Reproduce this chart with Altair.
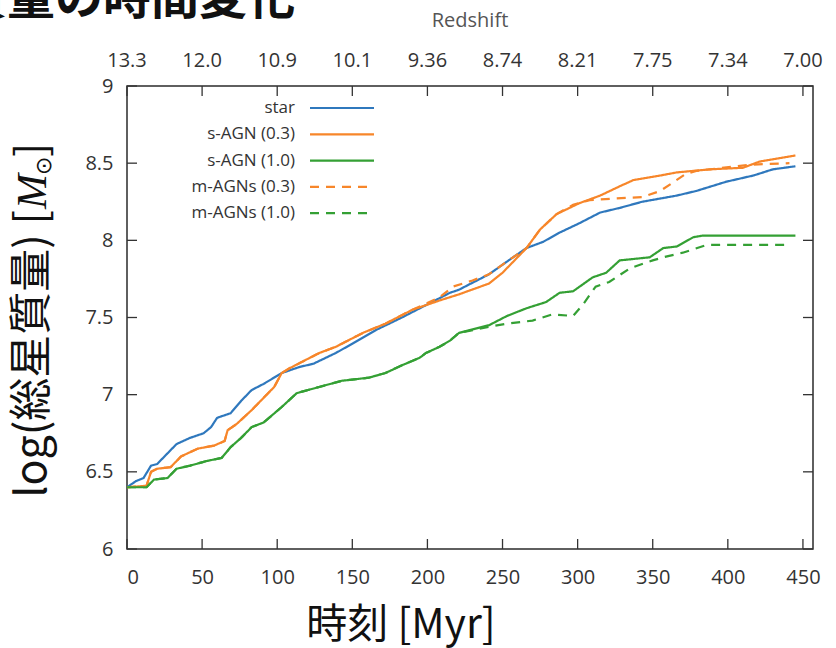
import altair as alt
import pandas as pd

# ---- series: time [Myr] and log stellar mass [Msun] ----
star_t = [0, 6, 11, 16, 20, 27, 33, 42, 51, 56, 60, 69, 76, 83, 91, 103, 115, 124, 139, 150,
          166, 183, 199, 215, 221, 241, 257, 266, 277, 288, 301, 315, 328, 343, 366, 379, 399,
          417, 430, 445]
star_v = [6.40, 6.44, 6.46, 6.54, 6.55, 6.62, 6.68, 6.72, 6.75, 6.79, 6.85, 6.88, 6.96, 7.03,
          7.07, 7.14, 7.18, 7.20, 7.27, 7.33, 7.42, 7.50, 7.58, 7.66, 7.68, 7.78, 7.89, 7.95,
          7.99, 8.05, 8.11, 8.18, 8.21, 8.25, 8.29, 8.32, 8.38, 8.42, 8.46, 8.48]

sagn03_t = [0, 13, 16, 20, 29, 36, 47, 58, 65, 67, 73, 83, 91, 98, 103, 108, 128, 139, 157,
            172, 190, 208, 221, 241, 250, 259, 266, 275, 286, 301, 315, 328, 337, 355, 366,
            388, 410, 421, 445]
sagn03_v = [6.40, 6.41, 6.50, 6.52, 6.53, 6.60, 6.65, 6.67, 6.70, 6.77, 6.81, 6.90, 6.98, 7.05,
            7.14, 7.17, 7.27, 7.31, 7.40, 7.46, 7.55, 7.61, 7.65, 7.72, 7.79, 7.88, 7.95, 8.07,
            8.17, 8.24, 8.29, 8.35, 8.39, 8.42, 8.44, 8.46, 8.47, 8.51, 8.55]

sagn10_t = [0, 13, 18, 27, 33, 42, 53, 63, 69, 76, 83, 91, 103, 113, 128, 143, 161, 172, 183,
            195, 199, 208, 215, 221, 241, 253, 266, 279, 288, 297, 310, 319, 328, 348, 357, 366,
            377, 383, 445]
sagn10_v = [6.40, 6.40, 6.45, 6.46, 6.52, 6.54, 6.57, 6.59, 6.66, 6.72, 6.79, 6.82, 6.92, 7.01,
            7.05, 7.09, 7.11, 7.14, 7.19, 7.24, 7.27, 7.31, 7.35, 7.40, 7.45, 7.51, 7.56, 7.60,
            7.66, 7.67, 7.76, 7.79, 7.87, 7.89, 7.95, 7.96, 8.02, 8.03, 8.03]

magn03_t = [0, 13, 16, 20, 29, 36, 47, 58, 65, 67, 73, 83, 91, 98, 103, 108, 128, 139, 157,
            172, 190, 208, 217, 230, 241, 257, 266, 275, 286, 297, 308, 323, 343, 355, 372, 379,
            388, 415, 441]
magn03_v = [6.40, 6.41, 6.50, 6.52, 6.53, 6.60, 6.65, 6.67, 6.70, 6.77, 6.81, 6.90, 6.98, 7.05,
            7.14, 7.17, 7.27, 7.31, 7.40, 7.46, 7.55, 7.63, 7.70, 7.74, 7.78, 7.89, 7.95, 8.07,
            8.17, 8.23, 8.26, 8.27, 8.28, 8.32, 8.43, 8.45, 8.46, 8.49, 8.50]

magn10_t = [0, 13, 18, 27, 33, 42, 53, 63, 69, 76, 83, 91, 103, 113, 128, 143, 161, 172, 183,
            195, 199, 208, 215, 221, 241, 253, 270, 283, 297, 304, 312, 321, 335, 350, 357, 370,
            386, 440]
magn10_v = [6.40, 6.40, 6.45, 6.46, 6.52, 6.54, 6.57, 6.59, 6.66, 6.72, 6.79, 6.82, 6.92, 7.01,
            7.05, 7.09, 7.11, 7.14, 7.19, 7.24, 7.27, 7.31, 7.35, 7.40, 7.44, 7.46, 7.48, 7.52,
            7.51, 7.59, 7.70, 7.73, 7.82, 7.87, 7.89, 7.92, 7.97, 7.97]

series_names = ["star", "s-AGN (0.3)", "s-AGN (1.0)", "m-AGNs (0.3)", "m-AGNs (1.0)"]
series_colors = ["#2f78bd", "#f7862a", "#34a034", "#f7862a", "#34a034"]
series_dashes = [[1, 0], [1, 0], [1, 0], [9, 7], [9, 7]]

# ---- axis ticks ----
time_ticks = [0, 50, 100, 150, 200, 250, 300, 350, 400, 450]
mass_ticks = [6, 6.5, 7, 7.5, 8, 8.5, 9]
redshift_labels = ["13.3", "12.0", "10.9", "10.1", "9.36", "8.74", "8.21", "7.75", "7.34", "7.00"]

W, H = 686, 463
TICK = 10
LABEL_FONT = "Open Sans"
CJK_FONT = "Noto Sans CJK JP"
INK = "#333333"
TITLE_INK = "#111111"

rows = []
for name, ts, vs in [
    ("star", star_t, star_v),
    ("s-AGN (0.3)", sagn03_t, sagn03_v),
    ("s-AGN (1.0)", sagn10_t, sagn10_v),
    ("m-AGNs (0.3)", magn03_t, magn03_v),
    ("m-AGNs (1.0)", magn10_t, magn10_v),
]:
    for t, v in zip(ts, vs):
        rows.append({"series": name, "t": t, "v": v})
df = pd.DataFrame(rows)

xscale = alt.Scale(domain=[0, 456.7], nice=False, zero=False)
yscale = alt.Scale(domain=[6, 9], nice=False, zero=False)

x_axis = alt.Axis(values=time_ticks, ticks=False, tickSize=0, domain=False, grid=False,
                  labelFontSize=20, labelColor=INK, labelFont=LABEL_FONT,
                  labelPadding=18, title=None)
y_axis = alt.Axis(values=mass_ticks, format="~g", ticks=False, tickSize=0, domain=False,
                  grid=False, labelFontSize=20, labelColor=INK, labelFont=LABEL_FONT,
                  labelPadding=14, title=None)
X = alt.X("t:Q", scale=xscale, axis=x_axis)
Y = alt.Y("v:Q", scale=yscale, axis=y_axis)

lines = alt.Chart(df).mark_line(strokeWidth=2.2, clip=True).encode(
    x=X,
    y=Y,
    color=alt.Color("series:N", scale=alt.Scale(domain=series_names, range=series_colors),
                    legend=None),
    strokeDash=alt.StrokeDash("series:N",
                              scale=alt.Scale(domain=series_names, range=series_dashes),
                              legend=None),
    detail="series:N",
)

# inward tick marks on all four sides
xt = pd.DataFrame({"t": time_ticks})
yt = pd.DataFrame({"v": mass_ticks})
bottom_ticks = alt.Chart(xt).mark_rule(color=INK, strokeWidth=1.3).encode(
    x=X, y=alt.value(H), y2=alt.value(H - TICK))
top_ticks = alt.Chart(xt).mark_rule(color=INK, strokeWidth=1.3).encode(
    x=X, y=alt.value(0), y2=alt.value(TICK))
left_ticks = alt.Chart(yt).mark_rule(color=INK, strokeWidth=1.3).encode(
    y=Y, x=alt.value(0), x2=alt.value(TICK))
right_ticks = alt.Chart(yt).mark_rule(color=INK, strokeWidth=1.3).encode(
    y=Y, x=alt.value(W), x2=alt.value(W - TICK))

# redshift labels along the top edge
top_df = pd.DataFrame({"t": time_ticks, "z": redshift_labels})
top_labels = alt.Chart(top_df).mark_text(
    fontSize=20, font=LABEL_FONT, color=INK, baseline="middle", align="center"
).encode(x=X, y=alt.value(-25), text="z:N")


def label(text, x, y, **kw):
    return alt.Chart(pd.DataFrame({"k": [0]})).mark_text(text=text, **kw).encode(
        x=alt.value(x), y=alt.value(y))


redshift_title = label("Redshift", 343, -65, fontSize=20, font=LABEL_FONT, color="#555555",
                       baseline="middle", align="center")

# titles
main_title = label("総星質量の時間変化", 168, -72, fontSize=48, fontWeight="bold",
                   font=CJK_FONT, color=TITLE_INK, align="right", baseline="alphabetic")
x_title = label("時刻 [Myr]", 274, 540, fontSize=41, font=CJK_FONT, color=TITLE_INK,
                align="center", baseline="middle")
# vertical title, read bottom-to-top: "log(総星質量) [" + italic M + subscript sun + "]"
y_title_1 = label("log(総星質量) [", -94, 124, fontSize=43, font=CJK_FONT, color=TITLE_INK,
                  align="right", baseline="middle", angle=270)
y_title_m = label("M", -94, 123, fontSize=42, font="Liberation Serif", fontStyle="italic",
                  color=TITLE_INK, align="left", baseline="middle", angle=270)
y_title_sun = label("⊙", -83, 89, fontSize=22, font="DejaVu Sans", color=TITLE_INK,
                    align="left", baseline="middle", angle=270)
y_title_2 = label("]", -94, 71, fontSize=42, font=CJK_FONT, color=TITLE_INK,
                  align="left", baseline="middle", angle=270)

# key in the upper-left corner: label to the left, line sample to the right
key_layers = []
for i, (name, col, dash) in enumerate(zip(series_names, series_colors, series_dashes)):
    yy = 22 + 26.3 * i
    key_layers.append(label(name, 168, yy, fontSize=17, font=LABEL_FONT, color=INK,
                            align="right", baseline="middle"))
    key_layers.append(
        alt.Chart(pd.DataFrame({"k": [i]})).mark_rule(
            color=col, strokeWidth=2.2, strokeDash=dash
        ).encode(x=alt.value(183), x2=alt.value(247), y=alt.value(yy))
    )

chart = alt.layer(
    lines, bottom_ticks, top_ticks, left_ticks, right_ticks, top_labels, redshift_title,
    main_title, x_title, y_title_1, y_title_m, y_title_sun, y_title_2, *key_layers
).properties(
    width=W, height=H,
    autosize=alt.AutoSizeParams(type="none"),
    padding={"left": 127, "top": 86, "right": 23, "bottom": 99},
    background="white",
).configure_view(stroke="#2b2b2b", strokeWidth=1.5)

chart.save("out.html", embed_options={"renderer": "svg", "actions": False})
